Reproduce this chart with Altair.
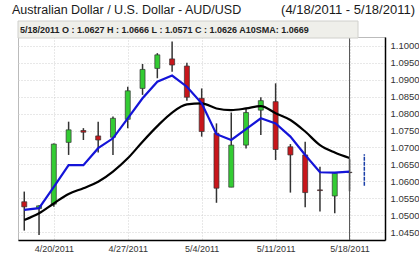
import altair as alt
import pandas as pd

dates = ["4/18/2011", "4/19/2011", "4/20/2011", "4/21/2011", "4/22/2011",
         "4/25/2011", "4/26/2011", "4/27/2011", "4/28/2011", "4/29/2011",
         "5/2/2011", "5/3/2011", "5/4/2011", "5/5/2011", "5/6/2011",
         "5/9/2011", "5/10/2011", "5/11/2011", "5/12/2011", "5/13/2011",
         "5/16/2011", "5/17/2011", "5/18/2011"]
opens = [1.0540, 1.0520, 1.0533, 1.0715, 1.0750, 1.0734, 1.0730, 1.0783, 1.0874, 1.0933,
         1.0961, 1.0940, 1.0845, 1.0742, 1.0583, 1.0707, 1.0810, 1.0835, 1.0702, 1.0678,
         1.0575, 1.0557, 1.0627]
highs = [1.0570, 1.0530, 1.0712, 1.0776, 1.0757, 1.0776, 1.0791, 1.0879, 1.0946, 1.0978,
         1.1012, 1.0950, 1.0874, 1.0771, 1.0803, 1.0815, 1.0848, 1.0889, 1.0710, 1.0717,
         1.0643, 1.0626, 1.0666]
lows = [1.0455, 1.0442, 1.0525, 1.0678, 1.0722, 1.0685, 1.0678, 1.0757, 1.0855, 1.0904,
        1.0923, 1.0838, 1.0732, 1.0537, 1.0583, 1.0697, 1.0737, 1.0663, 1.0567, 1.0524,
        1.0511, 1.0506, 1.0571]
closes = [1.0525, 1.0528, 1.0710, 1.0752, 1.0745, 1.0722, 1.0786, 1.0867, 1.0930, 1.0973,
          1.0943, 1.0848, 1.0747, 1.0580, 1.0707, 1.0803, 1.0838, 1.0694, 1.0678, 1.0567,
          1.0573, 1.0624, 1.0626]
sma10 = [1.0486, 1.0506, 1.0535, 1.0563, 1.0580, 1.0599, 1.0629, 1.0668, 1.0717, 1.0763,
         1.0803, 1.0827, 1.0830, 1.0815, 1.0810, 1.0815, 1.0822, 1.0801, 1.0781, 1.0747,
         1.0707, 1.0685, 1.0669]
blue_ma = [1.0516, 1.0521, 1.0584, 1.0648, 1.0648, 1.0698, 1.0727, 1.0786, 1.0845, 1.0894,
           1.0912, 1.0879, 1.0830, 1.0739, 1.0722, 1.0754, 1.0786, 1.0771, 1.0732, 1.0678,
           1.0627, 1.0626, 1.0629]
next_range = [1.0587, 1.0680]
y_ticks = [1.0450, 1.0500, 1.0550, 1.0600, 1.0650, 1.0700, 1.0750, 1.0800,
           1.0850, 1.0900, 1.0950, 1.1000]
x_label_idx = [2, 7, 12, 17, 22]
title_left = "Australian Dollar / U.S. Dollar -  AUD/USD"
title_right = "(4/18/2011 - 5/18/2011)"

df = pd.DataFrame({
    "i": list(range(len(dates))),
    "date": dates,
    "open": opens, "high": highs, "low": lows, "close": closes,
    "sma10": sma10, "blue": blue_ma,
})
df["up"] = df["close"] >= df["open"]

W, H = 367, 203
xdom = [-0.085, 24.06]
ydom = [1.04273, 1.10256]

label_expr = "[" + ",".join("'%s'" % d for d in dates) + "][datum.value]"

xs = alt.Scale(domain=xdom, nice=False, zero=False)
ys = alt.Scale(domain=ydom, nice=False, zero=False)

base = alt.Chart(df)

xaxis = alt.Axis(values=x_label_idx, labelExpr=label_expr, grid=True, gridDash=[1, 2],
                 gridColor="#d0d0d0", ticks=False, domainColor="#000", domainWidth=1.5,
                 labelFontSize=9, labelColor="#333", labelPadding=4, title=None,
                 labelFont="Liberation Sans", labelOverlap=False)
yaxis = alt.Axis(orient="right", values=y_ticks, format=".4f", grid=True, gridDash=[1, 2],
                 gridColor="#d0d0d0", ticks=False, domainColor="#000", domainWidth=1.5,
                 labelFontSize=9.5, labelColor="#333", labelPadding=5, title=None,
                 labelFont="Liberation Sans", labelOverlap=False, labelBound=False)

X = alt.X("i:Q", scale=xs, axis=xaxis)

def Y(field):
    return alt.Y(field, type="quantitative", scale=ys, axis=yaxis)

wicks = base.mark_rule(color="#333", strokeWidth=1.5, clip=True).encode(
    x=X, y=Y("low"), y2="high:Q")

bodies = base.mark_bar(size=5, stroke="#333", strokeWidth=0.7, clip=True).encode(
    x=X, y=Y("open"), y2="close:Q",
    color=alt.Color("up:N", scale=alt.Scale(domain=[True, False], range=["#33cc33", "#c8161b"]),
                    legend=None))

black = base.mark_line(color="#000", strokeWidth=2.2, interpolate="monotone").encode(
    x=X, y=Y("sma10"))
blue = base.mark_line(color="#1414d8", strokeWidth=2.2).encode(
    x=X, y=Y("blue"))

nxt = alt.Chart(pd.DataFrame({"i": [len(dates)], "lo": [next_range[0]], "hi": [next_range[1]]})).mark_rule(
    color="#1a3fa8", strokeWidth=1.5, strokeDash=[4, 1]).encode(
    x=X, y=Y("lo"), y2="hi:Q")

cross = alt.Chart(pd.DataFrame({"i": [len(dates) - 1]})).mark_rule(
    color="#555", strokeWidth=1).encode(
    x=X, y=alt.value(0), y2=alt.value(H))

header_text = "%s O : %.4f H : %.4f L : %.4f C : %.4f A10SMA: %.4f" % (
    dates[-1], opens[-1], highs[-1], lows[-1], closes[-1], sma10[-1])
hdf = pd.DataFrame({"t": [header_text], "tl": [title_left], "tr": [title_right]})

hbox = alt.Chart(hdf).mark_rect(fill="#efefea", stroke="#d0d0cc", strokeWidth=1).encode(
    x=alt.value(0), x2=alt.value(340), y=alt.value(-16), y2=alt.value(1))
htext = alt.Chart(hdf).mark_text(align="left", baseline="middle", fontSize=9, fontWeight="bold",
                                 font="Liberation Sans", color="#222").encode(
    x=alt.value(2), y=alt.value(-7.5), text="t:N")
tl = alt.Chart(hdf).mark_text(align="left", baseline="middle", fontSize=12.5,
                              font="Liberation Sans", color="#1a1a1a").encode(
    x=alt.value(-6), y=alt.value(-27), text="tl:N")
tr = alt.Chart(hdf).mark_text(align="right", baseline="middle", fontSize=13,
                              font="Liberation Sans", color="#1a1a1a").encode(
    x=alt.value(397), y=alt.value(-27), text="tr:N")

chart = alt.layer(wicks, bodies, black, blue, nxt, cross, hbox, htext, tl, tr).properties(
    width=W, height=H,
    autosize=alt.AutoSizeParams(type="none"),
    padding={"left": 18, "top": 37, "right": 34, "bottom": 15},
    background="white",
).configure_view(stroke="#bbbbbb", strokeWidth=1
).configure_axis(labelOverlap=False)

chart.save("out.html", embed_options={"renderer": "svg", "actions": False})
